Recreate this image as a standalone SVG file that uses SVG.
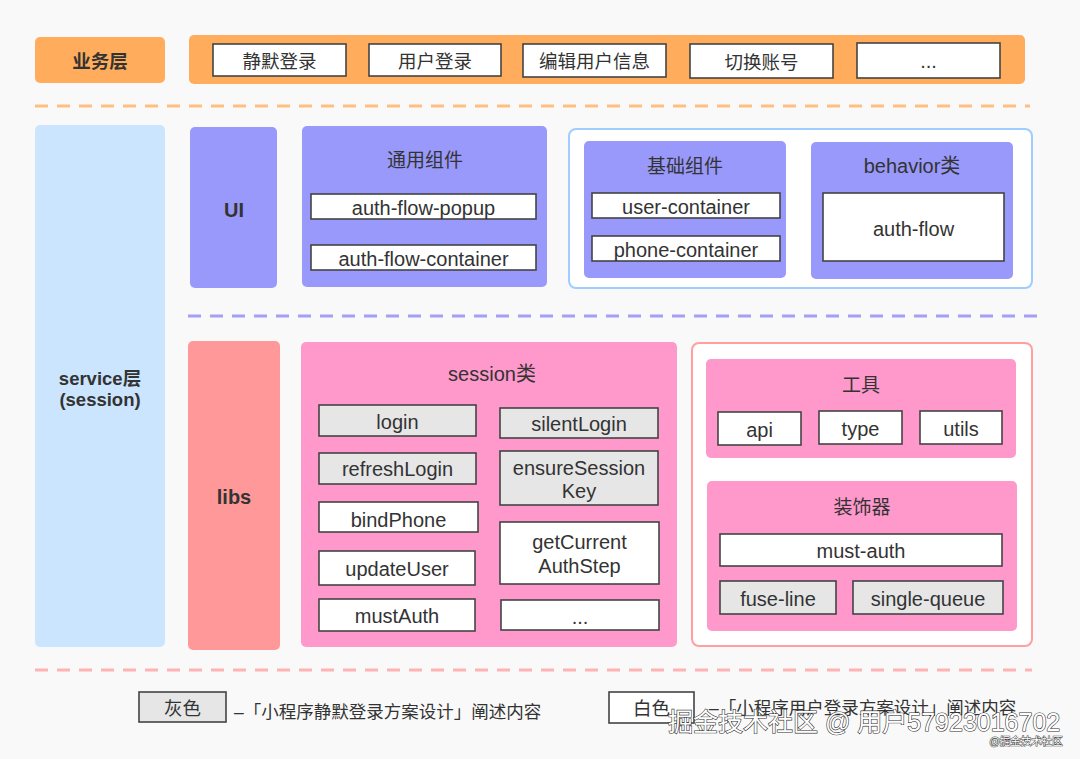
<svg xmlns="http://www.w3.org/2000/svg" width="1080" height="759" viewBox="0 0 1080 759">
<style>
text{font-family:"Liberation Sans","Noto Sans CJK SC",sans-serif;fill:#333;text-anchor:middle;dominant-baseline:central}
.lbl{font-size:20px}
.cjk{font-size:18.5px}
.ttl{font-size:19px}
.b{font-weight:bold}
.wb{fill:#fff;stroke:#444;stroke-width:1.6}
.gb{fill:#e6e6e6;stroke:#444;stroke-width:1.6}
.or{fill:#ffad5c}
.pu{fill:#9999fb}
.pk{fill:#ff99cc}
.leg{font-size:17.5px;text-anchor:start}
.wm{font-size:25px;fill:#fff;stroke:#333;stroke-width:1.2;paint-order:stroke;text-anchor:start;dominant-baseline:auto}
</style>
<rect width="1080" height="759" fill="#f9f9f9"/>

<g id="dividers">
<line x1="35" y1="106" x2="1030" y2="106" stroke="#ffbf80" stroke-width="3" stroke-dasharray="13,9"/>
<line x1="188" y1="316" x2="1040" y2="316" stroke="#a3a0f5" stroke-width="3" stroke-dasharray="13,9"/>
<line x1="35" y1="670" x2="1032" y2="670" stroke="#ffb3b3" stroke-width="3" stroke-dasharray="13,9"/>
</g>

<g id="connectors"></g>

<!-- business layer -->
<g id="biz-layer">
<rect class="or" x="35" y="37" width="130" height="46" rx="5"/>
<text class="cjk b" x="100" y="61">业务层</text>
</g>
<g id="biz-band">
<rect class="or" x="189" y="35" width="836" height="49" rx="5"/>
<g id="biz-silent"><rect class="wb" x="213" y="44" width="133" height="32"/><text class="cjk" x="279.5" y="61">静默登录</text></g>
<g id="biz-user"><rect class="wb" x="369" y="44" width="132" height="32"/><text class="cjk" x="435" y="61">用户登录</text></g>
<g id="biz-edit"><rect class="wb" x="523" y="44" width="143" height="33"/><text class="cjk" x="594.5" y="61">编辑用户信息</text></g>
<g id="biz-switch"><rect class="wb" x="690" y="44" width="143" height="34"/><text class="cjk" x="761.5" y="62">切换账号</text></g>
<g id="biz-more"><rect class="wb" x="857" y="43" width="143" height="35"/><text class="lbl" x="928.5" y="61">...</text></g>
</g>

<!-- service layer -->
<g id="service">
<rect x="35" y="125" width="130" height="522" rx="5" fill="#cce5ff"/>
<text class="cjk b" x="100" y="378">service层</text>
<text class="cjk b" x="100" y="399">(session)</text>
</g>

<!-- UI -->
<g id="ui">
<rect class="pu" x="190" y="127" width="87" height="161" rx="5"/>
<text class="lbl b" x="234" y="210">UI</text>
</g>
<g id="common-comp">
<rect class="pu" x="302" y="126" width="245" height="161" rx="5"/>
<text class="ttl" x="425" y="160">通用组件</text>
<g id="auth-flow-popup"><rect class="wb" x="311" y="194" width="225" height="25"/><text class="lbl" x="423.5" y="208">auth-flow-popup</text></g>
<g id="auth-flow-container"><rect class="wb" x="311" y="245" width="225" height="25"/><text class="lbl" x="423.5" y="259">auth-flow-container</text></g>
</g>
<g id="ui-right">
<rect x="569" y="129" width="463" height="159" rx="7" fill="#fff" stroke="#9fcdff" stroke-width="2"/>
<g id="base-comp">
<rect class="pu" x="584" y="141" width="202" height="137" rx="5"/>
<text class="ttl" x="685" y="166">基础组件</text>
<g id="user-container"><rect class="wb" x="592" y="193" width="188" height="25"/><text class="lbl" x="686" y="207">user-container</text></g>
<g id="phone-container"><rect class="wb" x="592" y="236" width="188" height="25"/><text class="lbl" x="686" y="250">phone-container</text></g>
</g>
<g id="behavior">
<rect class="pu" x="811" y="142" width="202" height="137" rx="5"/>
<text class="lbl" x="912" y="166">behavior类</text>
<g id="auth-flow"><rect class="wb" x="823" y="193" width="181" height="68"/><text class="lbl" x="913.5" y="229">auth-flow</text></g>
</g>
</g>

<!-- libs -->
<g id="libs">
<rect x="188" y="341" width="92" height="309" rx="5" fill="#ff9999"/>
<text class="lbl b" x="234" y="497">libs</text>
</g>
<g id="session-class">
<rect class="pk" x="301" y="342" width="376" height="305" rx="5"/>
<text class="lbl" x="492" y="374">session类</text>
<g id="s-login"><rect class="gb" x="319" y="405" width="157" height="31"/><text class="lbl" x="397.5" y="422">login</text></g>
<g id="s-refresh"><rect class="gb" x="319" y="453" width="157" height="31"/><text class="lbl" x="397.5" y="469">refreshLogin</text></g>
<g id="s-bind"><rect class="wb" x="319" y="502" width="159" height="30"/><text class="lbl" x="398.5" y="520">bindPhone</text></g>
<g id="s-update"><rect class="wb" x="319" y="551" width="156" height="34"/><text class="lbl" x="397" y="569">updateUser</text></g>
<g id="s-must"><rect class="wb" x="319" y="599" width="156" height="32"/><text class="lbl" x="397" y="616">mustAuth</text></g>
<g id="s-silent"><rect class="gb" x="500" y="408" width="158" height="30"/><text class="lbl" x="579" y="424">silentLogin</text></g>
<g id="s-ensure"><rect class="gb" x="500" y="451" width="158" height="54"/><text class="lbl" x="579" y="468">ensureSession</text><text class="lbl" x="579" y="491">Key</text></g>
<g id="s-step"><rect class="wb" x="500" y="522" width="159" height="62"/><text class="lbl" x="579.5" y="542">getCurrent</text><text class="lbl" x="579.5" y="566">AuthStep</text></g>
<g id="s-more"><rect class="wb" x="501" y="600" width="158" height="30"/><text class="lbl" x="580" y="617">...</text></g>
</g>
<g id="libs-right">
<rect x="692" y="343" width="340" height="303" rx="7" fill="#fff" stroke="#ff9f9f" stroke-width="2"/>
<g id="tools">
<rect class="pk" x="706" y="359" width="310" height="99" rx="5"/>
<text class="ttl" x="861" y="385">工具</text>
<g id="t-api"><rect class="wb" x="718" y="412" width="83" height="33"/><text class="lbl" x="759.5" y="430">api</text></g>
<g id="t-type"><rect class="wb" x="819" y="411" width="83" height="33"/><text class="lbl" x="860.5" y="429">type</text></g>
<g id="t-utils"><rect class="wb" x="920" y="411" width="82" height="33"/><text class="lbl" x="961" y="429">utils</text></g>
</g>
<g id="decorators">
<rect class="pk" x="707" y="481" width="310" height="150" rx="5"/>
<text class="ttl" x="862" y="507">装饰器</text>
<g id="d-must"><rect class="wb" x="720" y="534" width="282" height="32"/><text class="lbl" x="861" y="551">must-auth</text></g>
<g id="d-fuse"><rect class="gb" x="720" y="581" width="116" height="33"/><text class="lbl" x="778" y="599">fuse-line</text></g>
<g id="d-queue"><rect class="gb" x="853" y="581" width="150" height="33"/><text class="lbl" x="928" y="599">single-queue</text></g>
</g>
</g>

<!-- legend -->
<g id="legend">
<g id="leg-grey"><rect class="gb" x="139" y="692" width="87" height="30"/><text class="cjk" x="182.5" y="708">灰色</text></g>
<text class="leg" x="234" y="712">–「小程序静默登录方案设计」阐述内容</text>
<g id="leg-white"><rect class="wb" x="609" y="692" width="85" height="31"/><text class="cjk" x="651.5" y="708">白色</text></g>
<text class="leg" x="709" y="708">–「小程序用户登录方案设计」阐述内容</text>
</g>

<g id="watermark">
<text class="wm" x="668" y="731">掘金技术社区 @ 用户57923016702</text>
<text x="1026" y="741" style="font-size:10.5px;fill:#fff;stroke:#444;stroke-width:1;paint-order:stroke">@掘金技术社区</text>
</g>
</svg>
